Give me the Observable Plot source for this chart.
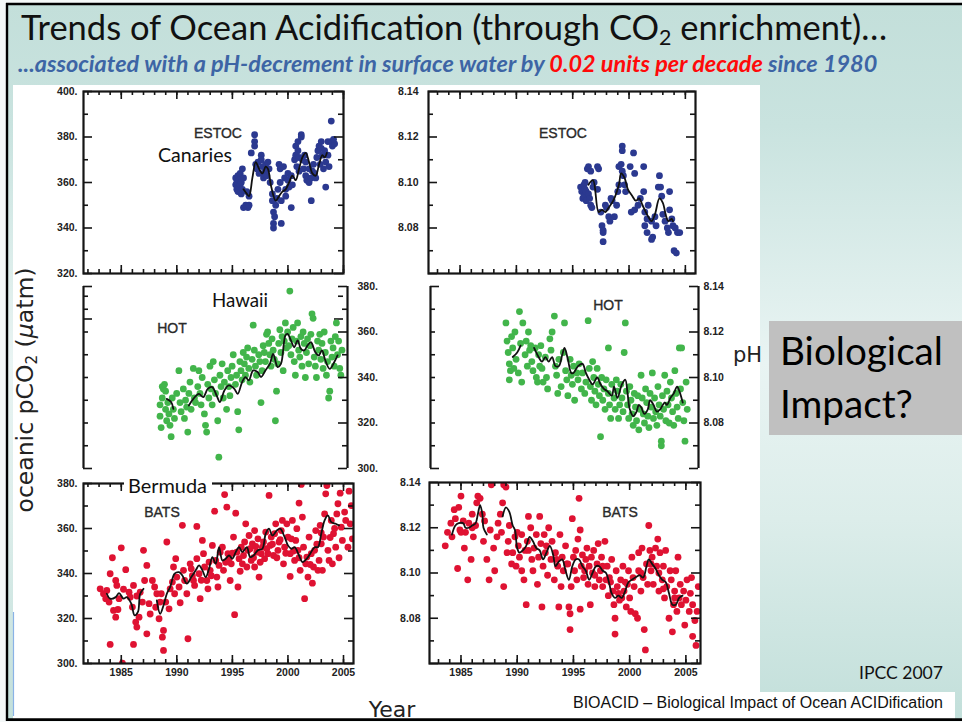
<!DOCTYPE html>
<html><head><meta charset="utf-8">
<script src="https://cdn.jsdelivr.net/npm/d3@7"></script>
<script src="https://cdn.jsdelivr.net/npm/@observablehq/plot@0.6"></script>
<style>
html,body{margin:0;padding:0;background:#f4f8f8;}
#slide{position:relative;width:962px;height:722px;overflow:hidden;}
#slide svg{position:absolute;}
</style></head><body><div id="slide"></div>
<script>
// ---------- DATA (year, value) ----------
const estocPco2Pts = [[1995.3,362],[1995.3,359],[1995.4,357],[1995.4,360],[1995.5,363],[1995.5,356],[1995.6,361],[1995.6,358],[1995.7,364],[1995.7,359],[1995.8,355],[1995.8,360],[1995.9,366],[1995.9,357],[1996.0,362],[1996.0,349],[1996.2,350],[1996.3,356],[1996.4,349],[1996.5,350],[1996.5,354],[1996.7,373],[1997.0,381],[1997.0,378],[1997.0,376],[1997.1,368],[1997.2,366],[1997.3,369],[1997.4,364],[1997.6,372],[1997.6,370],[1997.7,367],[1997.8,364],[1997.8,362],[1998.0,368],[1998.0,365],[1998.1,363],[1998.2,369],[1998.3,366],[1998.4,360],[1998.6,355],[1998.6,352],[1998.7,347],[1998.7,342],[1998.7,340],[1998.8,345],[1998.9,350],[1999.0,353],[1999.1,357],[1999.2,368],[1999.3,366],[1999.3,360],[1999.4,342],[1999.4,352],[1999.6,367],[1999.7,362],[1999.8,357],[1999.8,354],[2000.0,364],[2000.0,361],[2000.1,358],[2000.3,349],[2000.3,363],[2000.4,359],[2000.6,370],[2000.7,376],[2000.7,372],[2000.8,367],[2000.9,378],[2000.9,374],[2001.0,371],[2001.0,365],[2001.2,381],[2001.2,380],[2001.3,370],[2001.4,366],[2001.5,372],[2001.6,369],[2001.6,363],[2001.7,361],[2001.9,360],[2001.9,366],[2002.1,352],[2002.1,362],[2002.2,365],[2002.3,368],[2002.4,364],[2002.5,362],[2002.6,371],[2002.7,374],[2002.8,376],[2002.9,368],[2003.0,378],[2003.0,375],[2003.1,372],[2003.2,366],[2003.3,374],[2003.4,369],[2003.4,358],[2003.6,378],[2003.6,372],[2003.7,367],[2003.9,387],[2003.9,378],[2004.0,376],[2004.2,377],[2004.1,379]];
const estocPco2Line = [[1996.0,357],[1996.3,355],[1996.5,354],[1996.8,362],[1997.1,369],[1997.4,366],[1997.7,364],[1998.0,367],[1998.2,366],[1998.5,358],[1998.9,352],[1999.2,354],[1999.5,356],[1999.8,357],[2000.1,360],[2000.4,363],[2000.7,361],[2001.0,366],[2001.3,371],[2001.6,373],[2001.9,369],[2002.2,364],[2002.5,363],[2002.8,368],[2003.1,372],[2003.3,371],[2003.5,373]];

const estocPhPts = [[1995.7,8.098],[1995.8,8.096],[1995.9,8.093],[1996.0,8.099],[1996.0,8.094],[1996.1,8.097],[1996.1,8.100],[1996.2,8.092],[1996.2,8.096],[1996.3,8.106],[1996.4,8.095],[1996.4,8.107],[1996.5,8.093],[1996.6,8.105],[1996.6,8.090],[1996.7,8.089],[1996.8,8.098],[1996.9,8.100],[1997.2,8.107],[1997.3,8.106],[1997.2,8.097],[1997.5,8.087],[1997.6,8.081],[1997.7,8.079],[1997.7,8.078],[1997.7,8.074],[1997.9,8.090],[1998.0,8.089],[1998.2,8.085],[1998.3,8.083],[1998.4,8.093],[1998.5,8.092],[1998.7,8.085],[1998.9,8.090],[1999.0,8.096],[1999.1,8.099],[1999.1,8.107],[1999.3,8.108],[1999.4,8.116],[1999.4,8.114],[1999.4,8.105],[1999.5,8.103],[1999.6,8.099],[1999.7,8.096],[2000.1,8.107],[2000.4,8.113],[2000.5,8.104],[2000.2,8.087],[2000.5,8.088],[2000.8,8.090],[2001.0,8.093],[2001.3,8.107],[2001.3,8.096],[2001.4,8.087],[2001.6,8.084],[2001.4,8.081],[2001.6,8.078],[2001.7,8.090],[2002.0,8.083],[2002.1,8.076],[2002.0,8.075],[2002.3,8.085],[2002.4,8.081],[2002.6,8.098],[2002.7,8.103],[2002.8,8.098],[2002.9,8.094],[2003.0,8.086],[2003.2,8.083],[2003.4,8.080],[2003.5,8.078],[2003.6,8.096],[2003.6,8.088],[2003.8,8.084],[2003.9,8.081],[2004.1,8.080],[2004.0,8.070],[2004.2,8.069],[2004.3,8.078],[2004.5,8.078]];
const estocPhLine = [[1996.4,8.099],[1996.8,8.101],[1997.3,8.087],[1997.6,8.088],[1997.9,8.087],[1998.2,8.089],[1998.6,8.092],[1999.1,8.099],[1999.3,8.104],[1999.6,8.102],[1999.9,8.097],[2000.3,8.094],[2000.6,8.092],[2000.9,8.093],[2001.2,8.090],[2001.7,8.085],[2002.0,8.083],[2002.3,8.086],[2002.7,8.093],[2003.0,8.091],[2003.3,8.085],[2003.5,8.083],[2003.8,8.084],[2003.9,8.083]];

const hotPco2Pts = [[1988.5,328],[1988.5,323],[1988.6,318],[1988.7,336],[1988.7,331],[1988.8,335],[1988.9,337],[1989.0,334],[1989.0,326],[1989.1,321],[1989.2,329],[1989.3,324],[1989.4,319],[1989.5,314],[1989.6,331],[1989.7,326],[1989.8,322],[1990.0,333],[1990.2,343],[1990.3,329],[1990.4,325],[1990.6,335],[1990.7,322],[1990.8,330],[1990.9,327],[1991.0,316],[1991.1,333],[1991.2,338],[1991.3,326],[1991.5,344],[1991.6,331],[1991.7,329],[1991.9,336],[1992.0,343],[1992.1,333],[1992.2,328],[1992.3,340],[1992.5,324],[1992.6,319],[1992.7,316],[1992.8,337],[1992.9,331],[1993.0,345],[1993.1,335],[1993.2,328],[1993.3,347],[1993.4,339],[1993.5,333],[1993.7,321],[1993.8,305],[1993.9,341],[1994.0,336],[1994.1,346],[1994.2,331],[1994.3,338],[1994.5,326],[1994.6,343],[1994.7,336],[1994.8,332],[1994.9,340],[1995.0,345],[1995.1,350],[1995.3,337],[1995.4,341],[1995.5,325],[1995.6,317],[1995.7,347],[1995.8,343],[1995.9,339],[1996.0,351],[1996.1,346],[1996.2,341],[1996.3,349],[1996.4,353],[1996.5,344],[1996.6,338],[1996.8,348],[1996.9,363],[1997.0,352],[1997.1,345],[1997.2,341],[1997.4,350],[1997.5,347],[1997.6,329],[1997.7,343],[1997.8,354],[1997.9,351],[1998.0,347],[1998.1,359],[1998.2,360],[1998.3,355],[1998.4,350],[1998.5,345],[1998.6,357],[1998.7,352],[1998.8,348],[1998.9,321],[1999.0,334],[1999.1,346],[1999.2,355],[1999.3,361],[1999.4,351],[1999.5,358],[1999.6,343],[1999.7,356],[1999.8,364],[1999.9,353],[2000.0,360],[2000.1,354],[2000.2,378],[2000.3,350],[2000.4,357],[2000.5,362],[2000.6,347],[2000.7,341],[2000.8,356],[2000.9,364],[2001.0,352],[2001.1,349],[2001.2,358],[2001.3,345],[2001.4,360],[2001.5,355],[2001.6,340],[2001.7,351],[2001.8,357],[2001.9,346],[2002.0,354],[2002.1,359],[2002.2,368],[2002.3,366],[2002.4,349],[2002.5,345],[2002.6,340],[2002.7,356],[2002.8,352],[2002.9,359],[2003.0,348],[2003.1,355],[2003.2,344],[2003.3,360],[2003.4,351],[2003.5,341],[2003.6,347],[2003.7,331],[2003.8,334],[2003.9,356],[2004.0,349],[2004.1,353],[2004.2,345],[2004.3,358],[2004.4,364],[2004.5,350],[2004.6,356],[2004.7,344],[2004.8,341],[2004.9,352]];
const hotPco2Line = [[1989.1,330.6],[1989.5,329.2],[1989.7,326.2],[1990.3,NaN],[1991.1,327.7],[1991.5,330.6],[1992.0,332.8],[1992.4,331.4],[1992.8,335.0],[1993.2,335.8],[1993.6,332.1],[1993.9,329.2],[1994.3,334.3],[1994.7,336.5],[1995.2,335.0],[1995.5,332.8],[1995.9,338.0],[1996.2,340.2],[1996.5,338.7],[1996.9,343.1],[1997.3,342.4],[1997.6,340.2],[1998.0,343.1],[1998.4,346.0],[1998.7,350.4],[1999.1,344.6],[1999.4,346.0],[1999.8,358.5],[2000.0,359.2],[2000.3,356.3],[2000.6,353.3],[2000.9,356.3],[2001.2,352.6],[2001.5,351.9],[2001.8,354.1],[2002.1,355.5],[2002.5,351.1],[2002.8,349.7],[2003.1,351.9],[2003.4,347.5],[2003.8,343.8],[2004.2,346.7],[2004.5,349.7]];

const hotPhPts = [[1988.9,8.124],[1989.0,8.116],[1989.1,8.111],[1989.2,8.106],[1989.3,8.103],[1989.2,8.099],[1989.4,8.118],[1989.5,8.113],[1989.6,8.104],[1989.7,8.120],[1989.8,8.108],[1990.0,8.102],[1990.1,8.129],[1990.2,8.115],[1990.3,8.098],[1990.4,8.124],[1990.6,8.110],[1990.7,8.116],[1990.8,8.105],[1990.9,8.120],[1991.0,8.112],[1991.1,8.114],[1991.2,8.107],[1991.3,8.103],[1991.5,8.113],[1991.6,8.100],[1991.7,8.098],[1991.8,8.110],[1991.9,8.105],[1992.0,8.114],[1992.1,8.104],[1992.2,8.098],[1992.4,8.109],[1992.5,8.100],[1992.6,8.095],[1992.8,8.117],[1992.9,8.112],[1993.0,8.120],[1993.2,8.127],[1993.3,8.105],[1993.4,8.101],[1993.5,8.093],[1993.6,8.108],[1993.8,8.096],[1994.0,8.111],[1994.1,8.124],[1994.2,8.103],[1994.3,8.099],[1994.4,8.092],[1994.6,8.108],[1994.7,8.101],[1994.8,8.097],[1994.9,8.105],[1995.0,8.090],[1995.2,8.102],[1995.3,8.099],[1995.4,8.106],[1995.6,8.095],[1995.7,8.102],[1995.9,8.093],[1996.0,8.098],[1996.2,8.125],[1996.3,8.104],[1996.4,8.096],[1996.5,8.090],[1996.6,8.107],[1996.7,8.100],[1996.8,8.094],[1996.9,8.088],[1997.0,8.104],[1997.1,8.097],[1997.2,8.092],[1997.3,8.074],[1997.4,8.100],[1997.5,8.090],[1997.6,8.095],[1997.7,8.086],[1997.8,8.099],[1998.0,8.113],[1998.0,8.093],[1998.1,8.088],[1998.2,8.082],[1998.3,8.097],[1998.5,8.091],[1998.6,8.086],[1998.7,8.099],[1998.8,8.094],[1998.9,8.082],[1999.0,8.088],[1999.1,8.097],[1999.2,8.091],[1999.3,8.085],[1999.4,8.111],[1999.5,8.124],[1999.6,8.094],[1999.7,8.088],[1999.8,8.082],[1999.9,8.096],[2000.0,8.090],[2000.1,8.084],[2000.2,8.079],[2000.3,8.093],[2000.4,8.087],[2000.5,8.081],[2000.6,8.092],[2000.7,8.077],[2000.8,8.086],[2000.9,8.101],[2001.0,8.091],[2001.1,8.084],[2001.2,8.080],[2001.3,8.095],[2001.4,8.089],[2001.5,8.083],[2001.6,8.078],[2001.7,8.093],[2001.8,8.087],[2001.9,8.102],[2002.0,8.082],[2002.1,8.091],[2002.2,8.085],[2002.3,8.079],[2002.4,8.096],[2002.5,8.088],[2002.6,8.083],[2002.7,8.072],[2002.7,8.070],[2002.8,8.092],[2002.9,8.086],[2003.0,8.101],[2003.1,8.081],[2003.2,8.094],[2003.3,8.088],[2003.4,8.080],[2003.5,8.098],[2003.6,8.091],[2003.7,8.085],[2003.8,8.079],[2003.9,8.103],[2004.0,8.093],[2004.1,8.087],[2004.2,8.082],[2004.3,8.113],[2004.5,8.113],[2004.4,8.095],[2004.6,8.089],[2004.7,8.081],[2004.8,8.072],[2004.9,8.098],[2005.0,8.086]];
const hotPhLine = [[1989.5,8.109],[1989.9,8.111],[1990.2,8.114],[1990.8,NaN],[1991.4,8.113],[1991.8,8.109],[1992.1,8.107],[1992.4,8.109],[1992.7,8.107],[1993.0,8.109],[1993.3,8.105],[1993.6,8.105],[1993.9,8.110],[1994.1,8.113],[1994.4,8.108],[1994.7,8.102],[1994.9,8.102],[1995.3,8.105],[1995.7,8.106],[1996.0,8.102],[1996.3,8.099],[1996.6,8.097],[1997.0,8.100],[1997.3,8.097],[1997.6,8.095],[1997.9,8.094],[1998.3,8.092],[1998.5,8.096],[1998.8,8.091],[1999.2,8.097],[1999.5,8.099],[1999.7,8.093],[1999.9,8.086],[2000.2,8.083],[2000.5,8.085],[2000.7,8.088],[2000.9,8.087],[2001.2,8.084],[2001.5,8.086],[2001.7,8.090],[2002.0,8.088],[2002.3,8.085],[2002.6,8.086],[2003.0,8.089],[2003.2,8.088],[2003.5,8.091],[2003.8,8.093],[2004.1,8.096],[2004.3,8.094],[2004.6,8.089]];

const batsPco2Pts = [[1983.1,333.2],[1983.4,331.0],[1983.6,328.8],[1983.7,332.5],[1983.9,327.3],[1984.0,339.9],[1984.2,347.0],[1984.0,308.5],[1984.5,336.9],[1984.6,334.7],[1984.8,328.8],[1984.3,323.6],[1984.5,320.6],[1985.0,351.4],[1985.1,300.2],[1985.4,341.7],[1985.7,331.7],[1985.8,329.5],[1986.0,325.1],[1986.1,308.5],[1986.3,318.4],[1986.4,316.2],[1986.6,320.6],[1986.1,334.7],[1986.7,331.7],[1986.9,327.3],[1987.0,350.3],[1987.1,336.9],[1987.3,343.6],[1987.3,313.2],[1987.5,326.6],[1987.8,336.9],[1988.0,334.0],[1988.2,331.0],[1988.5,327.3],[1988.4,319.9],[1988.6,331.0],[1988.7,311.7],[1988.8,305.8],[1988.8,314.7],[1989.0,327.3],[1989.1,354.0],[1989.3,324.3],[1989.4,333.2],[1989.6,336.2],[1989.7,342.9],[1989.9,346.6],[1990.0,338.4],[1990.2,334.0],[1990.5,361.4],[1990.6,341.4],[1990.7,336.9],[1990.9,331.0],[1991.0,311.0],[1991.2,344.3],[1991.3,342.1],[1991.5,336.9],[1991.6,334.7],[1991.8,346.6],[1991.8,360.9],[1992.0,339.9],[1992.1,328.8],[1992.3,354.7],[1992.4,348.8],[1992.5,342.9],[1992.7,336.9],[1992.8,333.2],[1992.9,345.1],[1993.0,341.4],[1993.2,352.5],[1993.4,367.7],[1993.5,345.8],[1993.6,338.4],[1993.7,334.0],[1993.8,343.6],[1993.9,349.5],[1994.1,351.7],[1994.2,341.4],[1994.3,375.1],[1994.5,369.5],[1994.6,348.8],[1994.7,346.6],[1994.8,336.9],[1994.9,344.3],[1995.1,356.2],[1995.2,321.7],[1995.3,366.8],[1995.4,349.5],[1995.5,334.0],[1995.6,346.6],[1995.8,351.7],[1995.9,344.3],[1996.1,354.0],[1996.2,362.1],[1996.3,342.9],[1996.4,350.3],[1996.5,356.9],[1996.7,345.8],[1996.8,353.2],[1997.0,359.1],[1997.0,342.9],[1997.2,349.5],[1997.3,355.4],[1997.4,338.4],[1997.6,348.8],[1997.7,351.7],[1997.9,346.6],[1998.0,358.4],[1998.2,348.8],[1998.3,374.7],[1998.4,352.5],[1998.5,356.2],[1998.7,348.0],[1998.8,357.7],[1998.9,362.1],[1999.1,350.3],[1999.2,354.0],[1999.4,359.1],[1999.5,363.6],[1999.6,344.3],[1999.7,351.7],[1999.9,362.1],[2000.0,356.2],[2000.2,338.7],[2000.2,348.8],[2000.3,355.4],[2000.4,363.6],[2000.6,345.8],[2000.7,354.7],[2000.8,359.9],[2000.9,350.3],[2001.0,371.3],[2001.1,341.4],[2001.2,379.6],[2001.3,365.1],[2001.4,351.7],[2001.5,328.8],[2001.6,344.3],[2001.7,347.3],[2001.8,338.4],[2001.9,356.2],[2002.1,348.8],[2002.2,335.7],[2002.3,342.9],[2002.4,350.3],[2002.5,359.1],[2002.7,341.4],[2002.8,345.8],[2002.9,361.4],[2003.0,353.2],[2003.1,341.4],[2003.2,356.2],[2003.3,366.5],[2003.4,375.4],[2003.5,379.1],[2003.6,350.3],[2003.7,345.8],[2003.9,363.6],[2004.0,344.3],[2004.1,357.7],[2004.3,351.7],[2004.4,366.5],[2004.5,371.0],[2004.7,375.7],[2004.8,360.6],[2004.9,354.7],[2005.1,367.3],[2005.2,363.6],[2005.4,351.7],[2005.5,376.6],[2005.6,362.1],[2005.7,370.2],[2005.8,355.4],[1996.0,348],[1996.6,351],[1996.9,347],[1997.1,352],[1997.5,345],[1997.8,354],[1998.1,351],[1998.6,353],[1999.0,347],[1999.3,355],[1999.8,349],[1995.0,349],[1995.7,341],[1994.4,345],[1993.1,339],[1992.2,337],[1991.4,339],[1990.3,327],[1989.8,331],[2000.5,350],[2001.0,347],[2002.0,344],[2002.6,353],[2003.0,358],[2003.8,356],[2004.2,360],[2004.6,347],[1986.4,330],[1985.2,333],[1984.7,324],[1987.6,322],[1988.1,325]];
const batsPco2Line = [[1983.7,331.0],[1984.0,328.8],[1984.5,329.5],[1984.8,331.3],[1985.2,328.8],[1985.5,329.5],[1985.9,326.6],[1986.2,321.4],[1986.5,322.9],[1986.7,331.0],[1987.0,333.2],[1987.5,NaN],[1988.2,328.0],[1988.5,322.1],[1988.8,325.8],[1989.1,331.0],[1989.4,334.0],[1989.8,339.9],[1990.2,340.6],[1990.5,339.1],[1990.9,335.5],[1991.3,338.4],[1991.7,341.4],[1992.0,343.6],[1992.3,341.4],[1992.6,338.4],[1992.9,342.1],[1993.2,347.3],[1993.5,344.3],[1993.8,351.7],[1994.1,345.8],[1994.4,346.6],[1994.7,348.0],[1995.0,346.6],[1995.3,349.5],[1995.6,351.7],[1995.9,349.5],[1996.3,351.7],[1996.6,347.3],[1996.9,348.0],[1997.3,350.3],[1997.7,351.0],[1998.0,357.7],[1998.3,359.9],[1998.6,356.9],[1999.0,359.1],[1999.3,359.9],[1999.7,356.2],[2000.0,352.5],[2000.3,351.0],[2000.6,351.7],[2001.0,348.0],[2001.3,345.1],[2001.7,346.6],[2002.0,348.8],[2002.4,351.7],[2002.7,351.7],[2003.0,357.7],[2003.3,363.6],[2003.6,365.8],[2003.9,362.8],[2004.3,362.1],[2004.6,361.4]];

const batsPhPts = [[1983.6,8.112],[1983.8,8.118],[1984.1,8.122],[1984.2,8.116],[1984.4,8.128],[1984.5,8.124],[1984.7,8.102],[1984.8,8.129],[1984.9,8.119],[1985.0,8.134],[1985.2,8.123],[1985.3,8.111],[1985.4,8.118],[1985.6,8.097],[1985.7,8.122],[1985.9,8.106],[1986.0,8.126],[1986.1,8.116],[1986.3,8.121],[1986.4,8.131],[1986.5,8.134],[1986.7,8.133],[1986.9,8.126],[1987.0,8.114],[1987.1,8.123],[1987.3,8.106],[1987.5,8.097],[1987.6,8.119],[1987.7,8.139],[1987.9,8.111],[1988.0,8.101],[1988.2,8.116],[1988.3,8.122],[1988.5,8.126],[1988.6,8.118],[1988.7,8.131],[1988.8,8.139],[1989.0,8.138],[1988.8,8.094],[1989.1,8.109],[1989.2,8.114],[1989.3,8.121],[1989.5,8.104],[1989.6,8.109],[1989.8,8.116],[1989.9,8.103],[1990.1,8.112],[1990.2,8.107],[1990.4,8.117],[1990.4,8.101],[1990.6,8.097],[1990.7,8.110],[1990.8,8.086],[1990.9,8.114],[1991.0,8.125],[1991.2,8.120],[1991.3,8.106],[1991.4,8.101],[1991.5,8.111],[1991.7,8.117],[1991.8,8.095],[1991.9,8.107],[1992.0,8.125],[1992.1,8.113],[1992.2,8.085],[1992.3,8.103],[1992.4,8.117],[1992.5,8.109],[1992.7,8.099],[1992.8,8.120],[1993.0,8.106],[1993.1,8.114],[1993.3,8.097],[1993.4,8.109],[1993.6,8.103],[1993.7,8.085],[1993.8,8.117],[1993.9,8.094],[1994.0,8.107],[1994.1,8.101],[1994.3,8.112],[1994.4,8.104],[1994.6,8.085],[1994.7,8.075],[1994.7,8.082],[1994.8,8.094],[1994.9,8.124],[1995.0,8.107],[1995.1,8.101],[1995.2,8.110],[1995.3,8.097],[1995.4,8.115],[1995.5,8.133],[1995.6,8.084],[1995.6,8.119],[1995.7,8.103],[1995.8,8.108],[1995.9,8.098],[1996.1,8.106],[1996.2,8.111],[1996.3,8.095],[1996.4,8.103],[1996.5,8.086],[1996.6,8.107],[1996.7,8.100],[1996.8,8.110],[1996.9,8.094],[1997.1,8.104],[1997.2,8.113],[1997.3,8.097],[1997.4,8.101],[1997.5,8.107],[1997.6,8.094],[1997.8,8.114],[1997.9,8.097],[1998.0,8.103],[1998.1,8.090],[1998.2,8.098],[1998.4,8.106],[1998.5,8.092],[1998.6,8.086],[1998.7,8.080],[1998.7,8.073],[1998.8,8.101],[1998.9,8.094],[1999.1,8.088],[1999.2,8.097],[1999.3,8.089],[1999.4,8.103],[1999.5,8.092],[1999.7,8.085],[1999.8,8.095],[1999.9,8.101],[2000.0,8.089],[2000.1,8.083],[2000.2,8.107],[2000.4,8.094],[2000.5,8.082],[2000.7,8.080],[2000.8,8.101],[2000.8,8.109],[2001.0,8.092],[2001.1,8.111],[2001.2,8.098],[2001.3,8.075],[2001.4,8.066],[2001.5,8.104],[2001.6,8.095],[2001.7,8.121],[2001.8,8.110],[2001.9,8.101],[2002.0,8.107],[2002.1,8.095],[2002.3,8.111],[2002.4,8.103],[2002.5,8.115],[2002.6,8.092],[2002.7,8.109],[2002.9,8.097],[2003.0,8.103],[2003.1,8.089],[2003.2,8.110],[2003.3,8.094],[2003.5,8.080],[2003.6,8.101],[2003.7,8.097],[2003.8,8.074],[2003.9,8.086],[2004.0,8.092],[2004.1,8.101],[2004.2,8.083],[2004.3,8.107],[2004.4,8.089],[2004.5,8.095],[2004.6,8.086],[2004.8,8.092],[2004.9,8.077],[2005.0,8.088],[2005.1,8.097],[2005.3,8.083],[2005.4,8.091],[2005.5,8.098],[2005.6,8.072],[2005.6,8.086],[2005.8,8.079],[2005.9,8.068],[2006.0,8.083],[2006.1,8.094],[1996.0,8.101],[1996.9,8.099],[1997.6,8.103],[1998.3,8.096],[1999.0,8.091],[1999.6,8.096],[2000.3,8.098],[2001.0,8.100],[2001.9,8.104],[2002.6,8.100],[1993.5,8.106],[1994.5,8.104],[1991.0,8.110],[1990.0,8.118],[1992.6,8.112],[1985.0,8.118],[1986.0,8.120],[2003.0,8.093],[2004.0,8.089]];
const batsPhLine = [[1984.2,8.117],[1984.5,8.121],[1984.8,8.122],[1985.2,8.122],[1985.4,8.120],[1985.7,8.120],[1986.0,8.121],[1986.3,8.122],[1986.5,8.126],[1986.7,8.130],[1986.9,8.126],[1987.0,8.120],[1987.3,8.117],[1988.0,NaN],[1988.7,8.125],[1989.0,8.129],[1989.3,8.127],[1989.6,8.121],[1989.8,8.119],[1990.0,8.111],[1990.2,8.109],[1990.5,8.110],[1990.8,8.112],[1991.1,8.116],[1991.4,8.114],[1991.7,8.111],[1992.0,8.110],[1992.3,8.106],[1992.6,8.109],[1992.9,8.112],[1993.2,8.108],[1993.4,8.103],[1993.7,8.105],[1994.0,8.106],[1994.3,8.101],[1994.6,8.097],[1994.9,8.103],[1995.2,8.106],[1995.5,8.106],[1995.8,8.103],[1996.1,8.101],[1996.4,8.097],[1996.7,8.100],[1997.0,8.103],[1997.3,8.103],[1997.6,8.101],[1997.9,8.100],[1998.2,8.095],[1998.4,8.091],[1998.7,8.089],[1999.0,8.090],[1999.3,8.089],[1999.6,8.092],[1999.9,8.096],[2000.2,8.097],[2000.5,8.098],[2000.9,8.099],[2001.2,8.098],[2001.5,8.103],[2001.7,8.106],[2002.0,8.104],[2002.3,8.102],[2002.6,8.099],[2002.9,8.097],[2003.2,8.096],[2003.5,8.091],[2003.8,8.086],[2004.1,8.086],[2004.4,8.089],[2004.7,8.090]];

// ---------- TICKS / LABELS ----------
const yearLabels = [1985, 1990, 1995, 2000, 2005];
const pco2Labels = [300, 320, 340, 360, 380, 400];
const pco2Minor = [310, 330, 350, 370, 390];
const pco2All10 = [310, 320, 330, 340, 350, 360, 370, 380, 390];
const phLabels = [8.08, 8.10, 8.12, 8.14];
const phMinor = [8.07, 8.09, 8.11, 8.13];
const phAll = [8.07, 8.08, 8.09, 8.10, 8.11, 8.12, 8.13];
const phMajor = [8.06, 8.08, 8.10, 8.12, 8.14];
const pco2Major = [300, 320, 340, 360, 380, 400];

const colEstoc = "#2b3990", colHot = "#42b54b", colBats = "#df1232";

const slide = document.getElementById("slide");
const NS = "http://www.w3.org/2000/svg";

// ---------- background ----------
const bg = document.createElementNS(NS, "svg");
bg.setAttribute("width", 962); bg.setAttribute("height", 722);
bg.style.left = "0px"; bg.style.top = "0px";
bg.innerHTML = `
<defs><linearGradient id="g" x1="0" y1="0" x2="0" y2="1">
<stop offset="0" stop-color="#c3dfda"/><stop offset="0.17" stop-color="#c9e3df"/>
<stop offset="0.5" stop-color="#e9f4f3"/><stop offset="0.72" stop-color="#dcedea"/>
<stop offset="1" stop-color="#c2dfda"/></linearGradient></defs>
<rect x="7" y="4" width="955" height="716" fill="url(#g)"/>
<rect x="13" y="85" width="747" height="634" fill="#ffffff"/>
<rect x="769" y="321" width="193" height="114" fill="#c0c0c0"/>
<rect x="560" y="692" width="395" height="27" fill="#ffffff"/>
<line x1="13.5" y1="612" x2="13.5" y2="716" stroke="#8ab2e6" stroke-width="1.2"/>`;
slide.appendChild(bg);

// ---------- panels ----------
function makePanel(p) {
  const [x0, y0, x1, y1] = p.box;
  const W = x1 - x0, H = y1 - y0;
  const mL = 50, mR = 50, mT = 12, mB = 28;
  const X = d => d[0], Y = d => d[1];
  const tk = {stroke: "#151515", strokeWidth: 1.6};
  const years = d3.range(Math.ceil(p.xDomain[0]), Math.floor(p.xDomain[1]) + 1);
  const marks = [
    Plot.dot(p.points, {x: X, y: Y, r: 3.4, fill: p.color, clip: true}),
    Plot.line(p.line, {x: X, y: Y, stroke: "#111", strokeWidth: 1.8, curve: "catmull-rom", clip: true}),
    Plot.tickY(p.leftMinor, {y: d => d, insetRight: W - 5, ...tk}),
    Plot.tickY(p.leftMajor, {y: d => d, insetRight: W - 9, ...tk}),
    Plot.tickY(p.rightMinor, {y: d => d, insetLeft: W - 5, ...tk}),
    Plot.tickY(p.rightMajor, {y: d => d, insetLeft: W - 9, ...tk})
  ];
  if (p.full) {
    marks.push(
      Plot.tickX(years, {x: d => d, insetTop: H - 4, ...tk}),
      Plot.tickX(years, {x: d => d, insetBottom: H - 4, ...tk}),
      Plot.tickX(yearLabels, {x: d => d, insetTop: H - 8, ...tk}),
      Plot.tickX(yearLabels, {x: d => d, insetBottom: H - 8, ...tk}),
      Plot.frame({stroke: "#151515", strokeWidth: 2.2})
    );
  } else {
    marks.push(Plot.ruleX(p.xDomain, {x: d => d, stroke: "#151515", strokeWidth: 2.2}));
  }
  marks.push(Plot.axisY({anchor: p.labelSide, ticks: p.yLabels, tickSize: 0, tickPadding: p.pad,
    tickFormat: p.fmt, label: null, fontSize: 10.5, fontWeight: "bold"}));
  if (p.xAxis) marks.push(Plot.axisX({anchor: "bottom", ticks: yearLabels, tickSize: 0, tickPadding: 5,
    tickFormat: d => String(d), label: null, fontSize: 10.5, fontWeight: "bold"}));
  const svg = Plot.plot({
    width: W + mL + mR, height: H + mT + mB,
    marginLeft: mL, marginRight: mR, marginTop: mT, marginBottom: mB,
    x: p.xAxis ? {domain: p.xDomain} : {domain: p.xDomain, axis: null},
    y: {domain: p.yDomain},
    style: {background: "transparent", overflow: "visible", color: "#222", fontFamily: "'Liberation Sans', Arial, sans-serif"},
    marks
  });
  svg.style.position = "absolute";
  svg.style.left = (x0 - mL) + "px";
  svg.style.top = (y0 - mT) + "px";
  slide.appendChild(svg);
}
const fPco2 = d => d + ".";
const fPh = d => d.toFixed(2);

makePanel({points: estocPco2Pts, line: estocPco2Line, color: colEstoc, box: [83, 91, 343, 273],
  xDomain: [1981.6, 2005.0], yDomain: [320, 400], full: true,
  leftMinor: pco2Minor, leftMajor: pco2Major, rightMinor: pco2Minor, rightMajor: pco2Major,
  labelSide: "left", yLabels: pco2Labels.slice(1), fmt: fPco2, pad: 6});
makePanel({points: estocPhPts, line: estocPhLine, color: colEstoc, box: [428, 91, 695, 273],
  xDomain: [1982.2, 2005.9], yDomain: [8.06, 8.14], full: true,
  leftMinor: phMinor, leftMajor: phMajor, rightMinor: phMinor, rightMajor: phMajor,
  labelSide: "left", yLabels: phLabels, fmt: fPh, pad: 10});
makePanel({points: hotPco2Pts, line: hotPco2Line, color: colHot, box: [83, 286, 347, 468],
  xDomain: [1981.6, 2005.4], yDomain: [300, 380], full: false,
  leftMinor: pco2All10.slice(0, 7), leftMajor: [300, 380], rightMinor: pco2Minor.slice(0, 4), rightMajor: pco2Major.slice(0, 5),
  labelSide: "right", yLabels: pco2Labels.slice(0, 5), fmt: fPco2, pad: 10});
makePanel({points: hotPhPts, line: hotPhLine, color: colHot, box: [430, 286, 698, 468],
  xDomain: [1982.2, 2006.0], yDomain: [8.06, 8.14], full: false,
  leftMinor: phAll, leftMajor: [8.06, 8.14], rightMinor: phMinor, rightMajor: phMajor,
  labelSide: "right", yLabels: phLabels, fmt: fPh, pad: 5});
makePanel({points: batsPco2Pts, line: batsPco2Line, color: colBats, box: [83, 483, 353, 663],
  xDomain: [1981.6, 2005.9], yDomain: [300, 380], full: true, xAxis: true,
  leftMinor: pco2Minor.slice(0, 4), leftMajor: pco2Major.slice(0, 5), rightMinor: pco2Minor.slice(0, 4), rightMajor: pco2Major.slice(0, 5),
  labelSide: "left", yLabels: pco2Labels.slice(0, 5), fmt: fPco2, pad: 6});
makePanel({points: batsPhPts, line: batsPhLine, color: colBats, box: [429, 482, 700, 663],
  xDomain: [1982.2, 2006.3], yDomain: [8.06, 8.14], full: true, xAxis: true,
  leftMinor: phMinor, leftMajor: phMajor, rightMinor: phMinor, rightMajor: phMajor,
  labelSide: "left", yLabels: phLabels, fmt: fPh, pad: 9});

// ---------- overlay text ----------
const ov = document.createElementNS(NS, "svg");
ov.setAttribute("width", 962); ov.setAttribute("height", 722);
ov.style.left = "0px"; ov.style.top = "0px"; ov.style.pointerEvents = "none";
const CAL = "Lato, 'Open Sans', sans-serif";
const ARI = "'Liberation Sans', Arial, sans-serif";
const GEO = "'DejaVu Sans', sans-serif";
ov.innerHTML = `
<text id="title" x="21" y="40" font-family="${CAL}" font-size="34" fill="#111" data-w="866">Trends of Ocean Acidification (through CO<tspan dy="5" font-size="62%">2</tspan><tspan dy="-5"> enrichment)…</tspan></text>
<text id="sub" x="18" y="72" font-family="${CAL}" font-weight="bold" font-style="italic" font-size="21" data-w="859"><tspan fill="#3d65a5">...associated with a pH-decrement in surface water by </tspan><tspan fill="#ff0a0a">0.02 units per decade</tspan><tspan fill="#3d65a5"> since 1980</tspan></text>
<g font-family="${ARI}" font-size="14" fill="#2a2a2a" stroke="#2a2a2a" stroke-width="0.35" text-anchor="middle">
<text x="218" y="138">ESTOC</text><text x="563" y="138">ESTOC</text>
<text x="172" y="333">HOT</text><text x="608" y="310">HOT</text>
<text x="162" y="517">BATS</text><text x="620" y="517">BATS</text>
</g>
<rect x="124" y="476" width="88" height="21" fill="#ffffff"/>
<text x="158" y="162" font-family="${CAL}" font-size="19" fill="#111" data-w="74">Canaries</text>
<text x="212" y="307" font-family="${CAL}" font-size="19" fill="#111" data-w="56">Hawaii</text>
<text x="128" y="493" font-family="${CAL}" font-size="19" fill="#111" data-w="79">Bermuda</text>
<text x="733" y="362" font-family="${GEO}" font-size="21" fill="#222">pH</text>
<text x="392" y="716.5" font-family="${GEO}" font-size="22" fill="#222" text-anchor="middle">Year</text>
<text id="ylab" transform="translate(33,390) rotate(-90)" font-family="${GEO}" font-size="22" fill="#222" text-anchor="middle" data-w="245">oceanic pCO<tspan dy="4" font-size="65%">2</tspan><tspan dy="-4"> (</tspan><tspan font-style="italic">μ</tspan>atm)</text>
<text id="bio1" x="780" y="365" font-family="${CAL}" font-size="40" fill="#000" data-w="163">Biological</text>
<text id="bio2" x="780" y="418" font-family="${CAL}" font-size="40" fill="#000">Impact?</text>
<text x="859" y="679" font-family="${CAL}" font-size="19" fill="#111" data-w="84">IPCC 2007</text>
<text x="573" y="708" font-family="${ARI}" font-size="14" fill="#111" data-w="370">BIOACID – Biological Impact of Ocean ACIDification</text>
<rect x="0" y="0" width="962" height="2.6" fill="#f4f8f8"/>
<line x1="6" y1="4" x2="962" y2="4" stroke="#000" stroke-width="2.6"/>
<line x1="7" y1="3" x2="7" y2="721" stroke="#000" stroke-width="2.4"/>
<line x1="6" y1="719.6" x2="962" y2="719.6" stroke="#000" stroke-width="2.6"/>
<rect x="0" y="721" width="962" height="2" fill="#f4f8f8"/>`;
slide.appendChild(ov);

function fit() {
  ov.querySelectorAll("text[data-w]").forEach(el => {
    const target = +el.getAttribute("data-w");
    const fs = parseFloat(el.getAttribute("font-size"));
    const len = el.getComputedTextLength();
    if (len > 0) el.setAttribute("font-size", (fs * target / len).toFixed(2));
  });
  ov.querySelector("#bio2").setAttribute("font-size", ov.querySelector("#bio1").getAttribute("font-size"));
}
fit();
if (document.fonts && document.fonts.ready) document.fonts.ready.then(fit);
</script></body></html>
